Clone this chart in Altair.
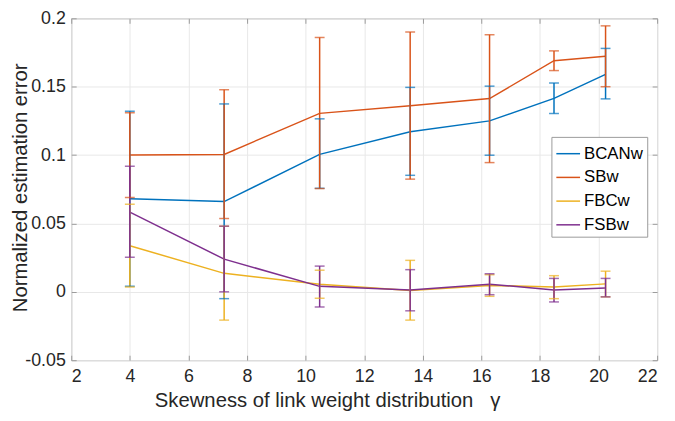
import altair as alt
import pandas as pd

gamma = [4.0, 7.22, 10.48, 13.57, 16.28, 18.48, 20.24]
series = ["BCANw", "SBw", "FBCw", "FSBw"]
colors = ["#0072BD", "#D95319", "#EDB120", "#7E2F8E"]

bcan_mean = [0.068, 0.066, 0.1005, 0.117, 0.125, 0.1415, 0.159]
bcan_lo = [0.004, -0.005, 0.0757, 0.0852, 0.0999, 0.1304, 0.1411]
bcan_hi = [0.132, 0.1374, 0.1265, 0.1495, 0.1504, 0.1527, 0.178]

sb_mean = [0.100, 0.1005, 0.1305, 0.136, 0.1413, 0.169, 0.1722]
sb_lo = [0.069, 0.0536, 0.0755, 0.0824, 0.0945, 0.1618, 0.150]
sb_hi = [0.131, 0.1478, 0.186, 0.190, 0.188, 0.1762, 0.1945]

fbc_mean = [0.0337, 0.0135, 0.0055, 0.001, 0.0047, 0.0035, 0.0058]
fbc_lo = [0.0035, -0.0207, -0.0047, -0.0207, -0.0033, -0.005, -0.0037]
fbc_hi = [0.064, 0.048, 0.0158, 0.023, 0.0125, 0.0118, 0.0151]

fsb_mean = [0.0583, 0.0239, 0.004, 0.0014, 0.0056, 0.0014, 0.0028]
fsb_lo = [0.0253, 0.0, -0.0111, -0.0139, -0.0021, -0.0074, -0.0037]
fsb_hi = [0.0919, 0.048, 0.0188, 0.0162, 0.0132, 0.0098, 0.0098]

x_ticks = [2, 4, 6, 8, 10, 12, 14, 16, 18, 20, 22]
y_ticks = [-0.05, 0, 0.05, 0.1, 0.15, 0.2]

means = [bcan_mean, sb_mean, fbc_mean, fsb_mean]
los = [bcan_lo, sb_lo, fbc_lo, fsb_lo]
his = [bcan_hi, sb_hi, fbc_hi, fsb_hi]

rows = []
for s, m, lo, hi in zip(series, means, los, his):
    for g, a, b, c in zip(gamma, m, lo, hi):
        rows.append({"series": s, "gamma": g, "mean": a, "lo": b, "hi": c})
df = pd.DataFrame(rows)

W, H = 593, 346
FONT = "Liberation Sans"
AX = "#9a9a9a"
TXT = "#262626"

xscale = alt.Scale(domain=[2, 22], nice=False, zero=False)
yscale = alt.Scale(domain=[-0.05, 0.2], nice=False, zero=False)
cscale = alt.Scale(domain=series, range=colors)

base = alt.Chart(df)

lines = base.mark_line(strokeWidth=1.5).encode(
    x=alt.X("gamma:Q", scale=xscale, axis=alt.Axis(
        orient="bottom", values=x_ticks, grid=True, ticks=False, domain=False,
        labelPadding=8, labelFontSize=18,
        title="Skewness of link weight distribution\u00a0\u00a0\u00a0γ",
        titleFontSize=20.5, titleX=259, titleY=47, titleBaseline="alphabetic",
        titleAlign="center", titleFontWeight="normal")),
    y=alt.Y("mean:Q", scale=yscale, axis=alt.Axis(
        orient="left", values=y_ticks, grid=True, ticks=False, domain=False,
        labelPadding=6, labelFontSize=18,
        labelExpr="replace(format(datum.value, '~g'), '\u2212', '-')",
        title="Normalized estimation error", titleFontSize=20.5,
        titleX=-45, titleY=H / 2 - 2, titleAngle=270, titleBaseline="alphabetic",
        titleAlign="center", titleFontWeight="normal")),
    color=alt.Color("series:N", scale=cscale, legend=alt.Legend(
        title="", orient="none", legendX=486, legendY=120,
        symbolType="stroke", symbolSize=576, symbolStrokeWidth=1.5,
        labelFontSize=17, labelFont=FONT, labelColor="#000000", labelOffset=3,
        rowPadding=3, padding=4, strokeColor=AX, fillColor="white")),
)

rules = base.mark_rule(strokeWidth=1.5).encode(
    x=alt.X("gamma:Q", scale=xscale, axis=alt.Axis(
        orient="top", offset=-H, values=x_ticks, labels=False, ticks=True,
        tickSize=5, tickColor=AX, domain=False, grid=False, title="")),
    y=alt.Y("lo:Q", scale=yscale, axis=alt.Axis(
        orient="right", offset=-W, values=y_ticks, labels=False, ticks=True,
        tickSize=5, tickColor=AX, domain=False, grid=False, title="")),
    y2="hi:Q",
    color=alt.Color("series:N", scale=cscale, legend=None),
)

caps_lo = base.mark_tick(orient="horizontal", size=10, thickness=1.5).encode(
    x=alt.X("gamma:Q", scale=xscale, axis=alt.Axis(
        orient="bottom", offset=-H, values=x_ticks, labels=False, ticks=True,
        tickSize=5, tickColor=AX, domain=False, grid=False, title="")),
    y=alt.Y("lo:Q", scale=yscale, axis=alt.Axis(
        orient="left", offset=-W, values=y_ticks, labels=False, ticks=True,
        tickSize=5, tickColor=AX, domain=False, grid=False, title="")),
    color=alt.Color("series:N", scale=cscale, legend=None),
)

caps_hi = base.mark_tick(orient="horizontal", size=10, thickness=1.5).encode(
    x=alt.X("gamma:Q", scale=xscale, axis=None),
    y=alt.Y("hi:Q", scale=yscale, axis=None),
    color=alt.Color("series:N", scale=cscale, legend=None),
)

chart = alt.layer(lines, rules, caps_lo, caps_hi).resolve_axis(
    x="independent", y="independent"
).properties(
    width=W, height=H, autosize="none",
    padding={"left": 64, "top": 8, "right": 10, "bottom": 51},
).configure_view(
    stroke=AX, strokeWidth=1
).configure_axis(
    labelFont=FONT, titleFont=FONT, labelColor=TXT, titleColor=TXT,
    gridColor="#e8e8e8", gridWidth=1,
)

chart.save("out.html", embed_options={"renderer": "svg", "actions": False})
